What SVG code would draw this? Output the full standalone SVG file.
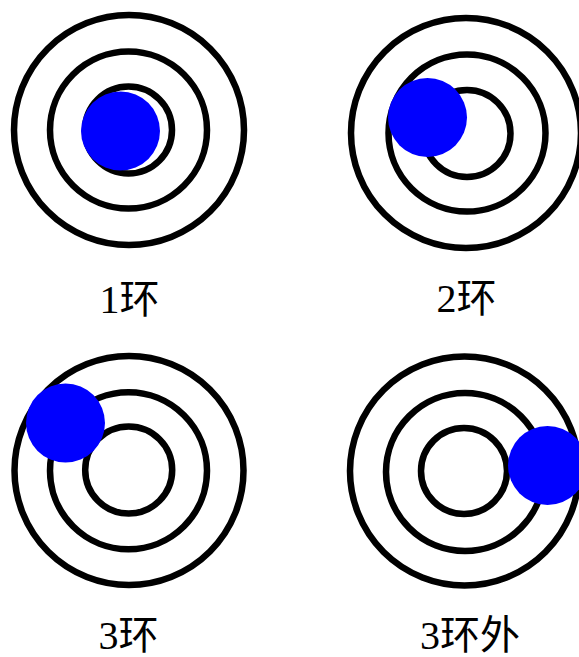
<svg xmlns="http://www.w3.org/2000/svg" width="579" height="657" viewBox="0 0 579 657">
<style>
.ring{fill:none;stroke:#000;stroke-width:6.5}
.ball{fill:#0000ff}
.lbl{font-family:"Liberation Serif","Noto Sans CJK SC",serif;font-size:40px;fill:#000;text-anchor:middle}
</style>
<rect width="579" height="657" fill="#fff"/>
<g id="t1">
<circle class="ring" cx="129" cy="130" r="115"/>
<circle class="ring" cx="128.5" cy="130" r="78.5"/>
<circle class="ring" cx="128.5" cy="130" r="43.5"/>
<circle class="ball" cx="120.5" cy="131" r="39.5"/>
<text class="lbl" x="129.5" y="313">1环</text>
</g>
<g id="t2">
<circle class="ring" cx="466" cy="133" r="115"/>
<circle class="ring" cx="467" cy="133" r="78.5"/>
<circle class="ring" cx="467" cy="133.5" r="43.5"/>
<circle class="ball" cx="427.5" cy="117.5" r="39.5"/>
<text class="lbl" x="466.5" y="312">2环</text>
</g>
<g id="t3">
<circle class="ring" cx="129" cy="470.5" r="114.5"/>
<circle class="ring" cx="128.5" cy="470.7" r="78.5"/>
<circle class="ring" cx="128.7" cy="470" r="43.5"/>
<circle class="ball" cx="65.5" cy="423" r="39.5"/>
<text class="lbl" x="128.5" y="649">3环</text>
</g>
<g id="t4">
<circle class="ring" cx="464.5" cy="471" r="114.5"/>
<circle class="ring" cx="465" cy="472" r="79"/>
<circle class="ring" cx="464" cy="471" r="43"/>
<circle class="ball" cx="547.5" cy="465.5" r="39.5"/>
<text class="lbl" x="470" y="649">3环外</text>
</g>
</svg>
